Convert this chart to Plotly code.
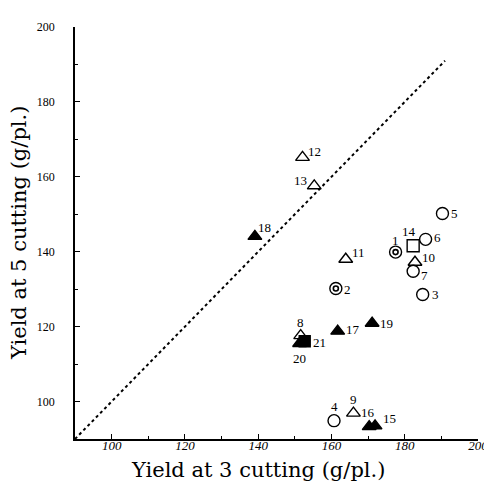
import plotly.graph_objects as go

# ---- data ----
ids = [str(i) for i in range(1, 22)]
yield3 = [177.5, 161.2, 184.9, 160.7, 190.3, 185.7, 182.3, 151.6, 166.0, 182.8,
          163.9, 152.1, 155.3, 182.3, 171.9, 170.3, 161.7, 139.1, 171.1, 151.3, 152.7]
yield5 = [139.9, 130.2, 128.6, 94.9, 150.2, 143.3, 134.8, 117.6, 96.9, 137.2,
          138.0, 165.2, 157.6, 141.6, 93.5, 93.3, 118.8, 144.1, 120.9, 115.5, 116.1]
kind = ["dcircle", "dcircle", "circle", "circle", "circle", "circle", "circle",
        "otri", "otri", "otri", "otri", "otri", "otri", "osquare",
        "ftri", "ftri", "ftri", "ftri", "ftri", "ftri", "fsquare"]
diag = [90, 191]

x_ticks = [100, 120, 140, 160, 180, 200]
y_ticks = [100, 120, 140, 160, 180, 200]
x_title = "Yield at 3 cutting (g/pl.)"
y_title = "Yield at 5 cutting (g/pl.)"

# label offsets (pixels) – styling
shifts = {
    "1": (0, 12), "2": (12, -1), "3": (13, 0), "4": (0, 14), "5": (12, 0),
    "6": (12, 2), "7": (11, -4), "8": (0, 13), "9": (0, 14), "10": (14, 5),
    "11": (13, 7), "12": (12, 6), "13": (-14, 5), "14": (-4, 14), "15": (14, 7),
    "16": (-1, 14), "17": (15, 2), "18": (10, 9), "19": (14, 0), "20": (0, -15),
    "21": (15, -1),
}

styles = {
    "circle": dict(symbol="circle-open", size=12),
    "dcircle": dict(symbol="circle-open", size=12),
    "otri": dict(symbol="triangle-up-open", size=12),
    "osquare": dict(symbol="square-open", size=12),
    "ftri": dict(symbol="triangle-up", size=12),
    "fsquare": dict(symbol="square", size=11),
}

SERIF = "DejaVu Serif"
fig = go.Figure()

fig.add_trace(go.Scatter(x=diag, y=diag, mode="lines",
                         line=dict(color="black", width=2, dash="dot"),
                         hoverinfo="skip", showlegend=False))

for k, st in styles.items():
    xs = [x for x, kk in zip(yield3, kind) if kk == k]
    ys = [y for y, kk in zip(yield5, kind) if kk == k]
    fig.add_trace(go.Scatter(x=xs, y=ys, mode="markers", showlegend=False,
                             marker=dict(symbol=st["symbol"], size=st["size"], color="black",
                                         line=dict(color="black", width=1.4))))
    if k == "dcircle":
        fig.add_trace(go.Scatter(x=xs, y=ys, mode="markers", showlegend=False,
                                 marker=dict(symbol="circle-open", size=5, color="black",
                                             line=dict(color="black", width=1.6))))

for i, x, y in zip(ids, yield3, yield5):
    dx, dy = shifts[i]
    fig.add_annotation(x=x, y=y, xref="x", yref="y", text=i, showarrow=False,
                       xshift=dx, yshift=dy,
                       font=dict(family="Liberation Serif", size=13, color="#000000"))

# axis titles
fig.add_annotation(x=0.455, y=0, xref="paper", yref="paper", yshift=-31, yanchor="middle",
                   text=x_title, showarrow=False,
                   font=dict(family=SERIF, size=21, color="#000000"))
fig.add_annotation(x=0, y=0.5, xref="paper", yref="paper", xshift=-56, xanchor="center",
                   text=y_title, textangle=-90, showarrow=False,
                   font=dict(family=SERIF, size=21, color="#000000"))

fig.update_layout(
    width=492, height=484,
    margin=dict(l=67, r=12, t=17, b=53),
    paper_bgcolor="white", plot_bgcolor="white",
    font=dict(family="Liberation Serif", color="black"),
)
fig.update_xaxes(range=[90, 200], tickvals=x_ticks, ticktext=[str(v) for v in x_ticks],
                 showgrid=False, zeroline=False, showline=True, linecolor="black", linewidth=1.5,
                 ticks="inside", ticklen=5, tickcolor="black", tickwidth=1, ticklabelstandoff=-6,
                 minor=dict(dtick=10, tick0=90, ticks="inside", ticklen=3, tickcolor="black"),
                 tickfont=dict(family="Liberation Serif", size=13, style="italic", color="#000000"))
fig.update_yaxes(range=[90, 200], tickvals=y_ticks, ticktext=[str(v) for v in y_ticks],
                 showgrid=False, zeroline=False, showline=True, linecolor="black", linewidth=1.5,
                 ticks="inside", ticklen=5, tickcolor="black", tickwidth=1, ticklabelstandoff=16,
                 minor=dict(dtick=10, tick0=90, ticks="inside", ticklen=3, tickcolor="black"),
                 tickfont=dict(family="Liberation Serif", size=12, color="#000000"))

fig.write_html("out.html")
